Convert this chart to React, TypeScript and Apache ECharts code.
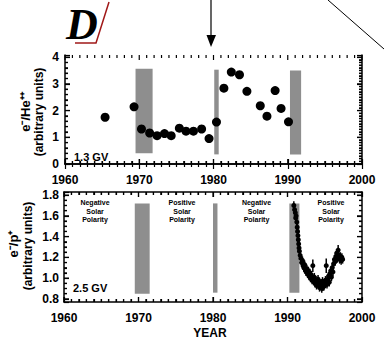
import React, { useEffect, useRef } from "react";
import * as echarts from "echarts";

// ---------- data ----------
const xTickYears = [1960, 1970, 1980, 1990, 2000];
const xMinorStep = 1;
const topYRange = [0, 4.08];
const topYTicks = [0, 1, 2, 3, 4];
const topYMinorLeftStep = 0.2;
const topYMinorRightStep = 0.1;
const bottomYRange = [0.77, 1.83];
const bottomYTicks = [0.8, 1.0, 1.2, 1.4, 1.6, 1.8];
const bottomYMinorStep = 0.05;

// top panel: e-/He++ at 1.3 GV
const topYears = [1965.4, 1969.3, 1970.3, 1971.4, 1972.4, 1973.4, 1974.3, 1975.4, 1976.3, 1977.3, 1978.4, 1979.4, 1980.4, 1981.4, 1982.4, 1983.5, 1984.5, 1986.3, 1987.2, 1988.3, 1989.1, 1990.1];
const topValues = [1.75, 2.14, 1.31, 1.16, 1.06, 1.14, 1.06, 1.34, 1.23, 1.23, 1.31, 0.95, 1.57, 2.84, 3.44, 3.34, 2.72, 2.18, 1.79, 2.75, 2.08, 1.58];
// shaded reversal periods [startYear, endYear, low, high]
const topBands = [
  [1969.5, 1971.8, 0.4, 3.57],
  [1980.1, 1980.7, 0.36, 3.53],
  [1990.3, 1991.8, 0.36, 3.5],
];

// bottom panel: e-/p+ at 2.5 GV
const bottomYears = [1990.85, 1990.95, 1991.05, 1991.1, 1991.15, 1991.25, 1991.3, 1991.35, 1991.4, 1991.45, 1991.5, 1991.55, 1991.6, 1991.7, 1991.8, 1991.9, 1992.0, 1992.1, 1992.2, 1992.3, 1992.4, 1992.5, 1992.6, 1992.7, 1992.8, 1992.9, 1993.0, 1993.1, 1993.2, 1993.3, 1993.4, 1993.5, 1993.6, 1993.7, 1993.8, 1993.9, 1994.0, 1994.1, 1994.2, 1994.3, 1994.4, 1994.5, 1994.6, 1994.7, 1994.8, 1994.9, 1995.0, 1995.1, 1995.2, 1995.3, 1995.4, 1995.5, 1995.6, 1995.7, 1995.8, 1995.9, 1996.0, 1996.1, 1996.2, 1996.3, 1996.4, 1996.5, 1996.6, 1996.7, 1996.8, 1996.9, 1997.0, 1997.1, 1997.2, 1997.3, 1997.4];
const bottomValues = [1.70, 1.66, 1.63, 1.58, 1.60, 1.54, 1.49, 1.45, 1.41, 1.37, 1.33, 1.29, 1.26, 1.22, 1.19, 1.15, 1.17, 1.12, 1.10, 1.13, 1.08, 1.06, 1.09, 1.04, 1.07, 1.02, 1.05, 1.00, 1.03, 0.98, 1.12, 0.97, 1.01, 0.95, 0.98, 0.93, 0.96, 0.99, 0.94, 0.91, 0.95, 0.93, 0.90, 0.97, 0.92, 0.92, 0.95, 0.98, 1.12, 0.94, 0.99, 1.02, 0.96, 1.04, 1.07, 1.01, 1.10, 1.06, 1.14, 1.18, 1.16, 1.21, 1.24, 1.19, 1.27, 1.22, 1.18, 1.21, 1.17, 1.20, 1.18];
const bottomErrors = [0.04, 0.04, 0.04, 0.04, 0.04, 0.04, 0.04, 0.04, 0.04, 0.04, 0.04, 0.04, 0.04, 0.04, 0.04, 0.04, 0.04, 0.04, 0.04, 0.04, 0.04, 0.04, 0.04, 0.04, 0.04, 0.04, 0.04, 0.04, 0.04, 0.04, 0.06, 0.04, 0.04, 0.04, 0.04, 0.04, 0.04, 0.04, 0.04, 0.04, 0.04, 0.04, 0.04, 0.04, 0.04, 0.04, 0.04, 0.04, 0.07, 0.04, 0.04, 0.04, 0.04, 0.04, 0.04, 0.04, 0.04, 0.04, 0.04, 0.04, 0.04, 0.04, 0.04, 0.04, 0.05, 0.04, 0.04, 0.04, 0.04, 0.04, 0.04];
const bottomBands = [
  [1969.5, 1971.5, 0.85, 1.72],
  [1980.0, 1980.6, 0.86, 1.72],
  [1990.25, 1991.6, 0.86, 1.72],
];

const polarityLabels = ["Negative\nSolar\nPolarity", "Positive\nSolar\nPolarity", "Negative\nSolar\nPolarity", "Positive\nSolar\nPolarity"];

const FONT = '"Liberation Sans", Arial, sans-serif';
const BAND_COLOR = "#8e8e8e";
const MAJOR_LEN = 5;
const MINOR_LEN = 3;
const TICK_W = 1.2;

function stepValues(lo: number, hi: number, step: number): number[] {
  const out: number[] = [];
  const n = Math.round((hi - lo) / step);
  for (let i = 0; i <= n; i++) out.push(+(lo + i * step).toFixed(4));
  return out;
}

// tick marks as scatter items sitting on the frame, offset inward
function buildTickItems(yRange: number[], yMajor: number[], yMinL: number, yMinR: number) {
  const items: any[] = [];
  const x0 = xTickYears[0];
  const x1 = xTickYears[xTickYears.length - 1];
  for (const v of stepValues(x0, x1, xMinorStep)) {
    const len = xTickYears.includes(v) ? MAJOR_LEN : MINOR_LEN;
    items.push({ value: [v, yRange[0]], symbolSize: [TICK_W, len], symbolOffset: [0, -len / 2] });
    items.push({ value: [v, yRange[1]], symbolSize: [TICK_W, len], symbolOffset: [0, len / 2] });
  }
  const isMajor = (v: number) => yMajor.some((m) => Math.abs(m - v) < 1e-6);
  const lo = yMajor[0];
  const hi = yMajor[yMajor.length - 1];
  for (const v of stepValues(lo, hi, yMinL)) {
    const len = isMajor(v) ? MAJOR_LEN : MINOR_LEN;
    items.push({ value: [x0, v], symbolSize: [len, TICK_W], symbolOffset: [len / 2, 0] });
  }
  for (const v of stepValues(lo, hi, yMinR)) {
    const len = isMajor(v) ? MAJOR_LEN : MINOR_LEN;
    items.push({ value: [x1, v], symbolSize: [len, TICK_W], symbolOffset: [-len / 2, 0] });
  }
  return items;
}

function bandRender(params: any, api: any) {
  const p1 = api.coord([api.value(0), api.value(3)]);
  const p2 = api.coord([api.value(1), api.value(2)]);
  return {
    type: "rect",
    shape: { x: p1[0], y: p1[1], width: p2[0] - p1[0], height: p2[1] - p1[1] },
    style: { fill: BAND_COLOR },
  };
}

function errRender(params: any, api: any) {
  const x = api.value(0);
  const y = api.value(1);
  const e = api.value(2);
  const a = api.coord([x, y - e]);
  const b = api.coord([x, y + e]);
  return {
    type: "line",
    shape: { x1: a[0], y1: a[1], x2: b[0], y2: b[1] },
    style: { stroke: "#000", lineWidth: 1.5 },
  };
}

function axisBase(show: boolean, minorSplit: number) {
  return {
    axisLine: { show: true, lineStyle: { color: "#000", width: 1.5 } },
    axisTick: { show: true, inside: true, length: MAJOR_LEN, lineStyle: { color: "#000", width: TICK_W } },
    minorTick: { show: true, splitNumber: minorSplit, length: MINOR_LEN, lineStyle: { color: "#000", width: TICK_W } },
    splitLine: { show: false },
    axisLabel: { show, color: "#000", fontFamily: FONT, fontWeight: "bold", fontSize: 12 },
  };
}

function xAxisDef(gridIndex: number, position: "top" | "bottom") {
  const base: any = axisBase(position === "bottom", 10);
  return {
    type: "value", gridIndex, position,
    min: xTickYears[0], max: xTickYears[xTickYears.length - 1], interval: 10,
    ...base,
    axisLabel: { ...base.axisLabel, margin: 10, formatter: (v: number) => String(v) },
  };
}

export default function App() {
  const ref = useRef<HTMLDivElement>(null);

  useEffect(() => {
    if (!ref.current) return;
    const chart = echarts.init(ref.current, undefined, { renderer: "svg" });

    const topData = topYears.map((y, i) => [y, topValues[i]]);
    const botData = bottomYears.map((y, i) => [y, bottomValues[i]]);
    const errData = bottomYears.map((y, i) => [y, bottomValues[i], bottomErrors[i]]);

    const yL0: any = axisBase(true, 5);
    const yR0: any = axisBase(false, 10);
    const yL1: any = axisBase(true, 4);
    const yR1: any = axisBase(false, 4);
    const polX = [95, 182, 256.5, 331];

    const option: any = {
      animation: false,
      grid: [
        { left: 65, right: 22, top: 55, height: 109 },
        { left: 64, right: 22, top: 192, height: 110 },
      ],
      xAxis: [xAxisDef(0, "bottom"), xAxisDef(0, "top"), xAxisDef(1, "bottom"), xAxisDef(1, "top")],
      yAxis: [
        {
          type: "value", gridIndex: 0, position: "left", min: topYRange[0], max: topYRange[1], interval: 1, ...yL0,
          axisLabel: { ...yL0.axisLabel, margin: 6, showMaxLabel: false },
        },
        { type: "value", gridIndex: 0, position: "right", min: topYRange[0], max: topYRange[1], interval: 1, ...yR0 },
        {
          type: "value", gridIndex: 1, position: "left", min: bottomYRange[0], max: bottomYRange[1], splitNumber: 5, ...yL1,
          axisLabel: {
            ...yL1.axisLabel, margin: 5, showMaxLabel: false, showMinLabel: false,
            formatter: (v: number) => v.toFixed(1),
          },
        },
        { type: "value", gridIndex: 1, position: "right", min: bottomYRange[0], max: bottomYRange[1], splitNumber: 5, ...yR1 },
      ],
      series: [
        {
          type: "scatter", xAxisIndex: 0, yAxisIndex: 0, z: 4, clip: false, silent: true,
          symbol: "rect", itemStyle: { color: "#000", opacity: 1 },
          data: buildTickItems(topYRange, topYTicks, topYMinorLeftStep, topYMinorRightStep),
        },
        {
          type: "scatter", xAxisIndex: 2, yAxisIndex: 2, z: 4, clip: false, silent: true,
          symbol: "rect", itemStyle: { color: "#000", opacity: 1 },
          data: buildTickItems(bottomYRange, bottomYTicks, bottomYMinorStep, bottomYMinorStep),
        },
        {
          type: "custom", xAxisIndex: 0, yAxisIndex: 0, z: 1,
          renderItem: bandRender, data: topBands, encode: { x: [0, 1], y: [2, 3] }, silent: true,
        },
        {
          type: "scatter", xAxisIndex: 0, yAxisIndex: 0, z: 3,
          symbol: "circle", symbolSize: 9, itemStyle: { color: "#000", opacity: 1 }, data: topData,
        },
        {
          type: "custom", xAxisIndex: 2, yAxisIndex: 2, z: 1,
          renderItem: bandRender, data: bottomBands, encode: { x: [0, 1], y: [2, 3] }, silent: true,
        },
        {
          type: "custom", xAxisIndex: 2, yAxisIndex: 2, z: 2,
          renderItem: errRender, data: errData, encode: { x: 0, y: 1 }, silent: true,
        },
        {
          type: "scatter", xAxisIndex: 2, yAxisIndex: 2, z: 3,
          symbol: "circle", symbolSize: 5, itemStyle: { color: "#000", opacity: 1 }, data: botData,
        },
      ],
      graphic: [
        {
          type: "text", x: 66, y: 24,
          style: { text: "D", font: 'italic bold 44px "Liberation Serif", serif', fill: "#000", textAlign: "left", textVerticalAlign: "middle" },
        },
        {
          type: "polyline",
          shape: { points: [[109, 2], [96, 43], [75, 43]] },
          style: { stroke: "#a01818", lineWidth: 1.5, fill: null },
        },
        { type: "line", shape: { x1: 211, y1: 0, x2: 211, y2: 38 }, style: { stroke: "#000", lineWidth: 1.2 } },
        { type: "polygon", shape: { points: [[206.5, 35], [216, 35], [211, 47]] }, style: { fill: "#000" } },
        { type: "line", shape: { x1: 328, y1: 0, x2: 384, y2: 49 }, style: { stroke: "#000", lineWidth: 1 } },
        { type: "text", x: 74, y: 157, style: { text: "1.3 GV", font: `bold 11px ${FONT}`, fill: "#000", textVerticalAlign: "middle" } },
        { type: "text", x: 73, y: 288, style: { text: "2.5 GV", font: `bold 11px ${FONT}`, fill: "#000", textVerticalAlign: "middle" } },
        ...polarityLabels.map((t, i) => ({
          type: "text", x: polX[i], y: 211,
          style: { text: t, font: `bold 7px ${FONT}`, lineHeight: 8.7, fill: "#000", textAlign: "center", textVerticalAlign: "middle" },
        })),
        { type: "text", x: 210, y: 333, style: { text: "YEAR", font: `bold 12px ${FONT}`, fill: "#000", textAlign: "center", textVerticalAlign: "middle" } },
        { type: "text", x: 25, y: 112, rotation: Math.PI / 2, style: { text: "e⁻/He⁺⁺", font: `bold 13px ${FONT}`, fill: "#000", textAlign: "center", textVerticalAlign: "middle" } },
        { type: "text", x: 39, y: 112, rotation: Math.PI / 2, style: { text: "(arbitrary units)", font: `bold 12px ${FONT}`, fill: "#000", textAlign: "center", textVerticalAlign: "middle" } },
        { type: "text", x: 13, y: 244, rotation: Math.PI / 2, style: { text: "e⁻/p⁺", font: `bold 13px ${FONT}`, fill: "#000", textAlign: "center", textVerticalAlign: "middle" } },
        { type: "text", x: 27.5, y: 246, rotation: Math.PI / 2, style: { text: "(arbitrary units)", font: `bold 12px ${FONT}`, fill: "#000", textAlign: "center", textVerticalAlign: "middle" } },
      ],
    };

    chart.setOption(option);
    return () => chart.dispose();
  }, []);

  return <div ref={ref} style={{ width: 384, height: 345, position: "absolute", left: 0, top: 0 }} />;
}
